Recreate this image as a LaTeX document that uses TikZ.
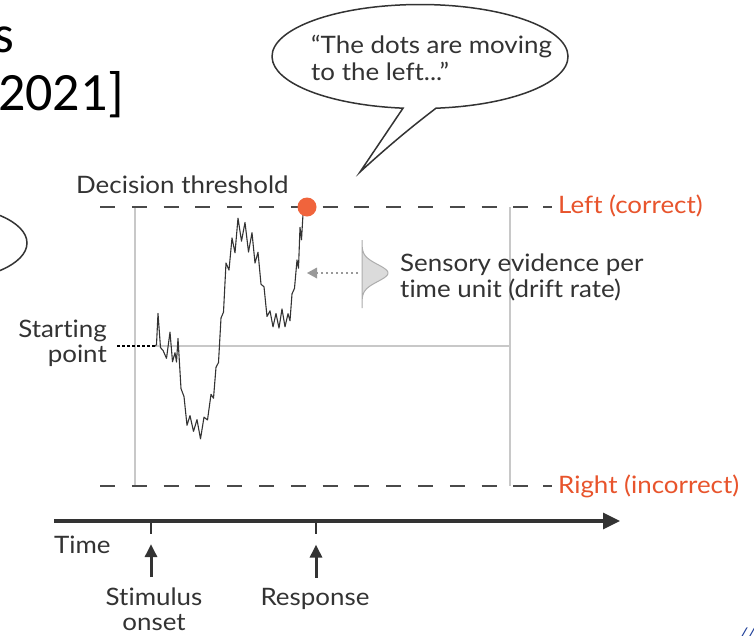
\documentclass[tikz,border=0pt]{standalone}
\usepackage{fontspec}
\setmainfont{Lato}[FakeStretch=1.08, Ligatures=NoCommon]
\newfontfamily\calfont{Carlito}
\usetikzlibrary{arrows.meta}
\definecolor{txt}{HTML}{333333}
\definecolor{redt}{HTML}{E8542C}
\definecolor{dotc}{HTML}{F0643C}
\definecolor{boxg}{HTML}{C8C8C8}
\definecolor{dashg}{HTML}{4A4A4A}
\definecolor{bluet}{HTML}{1F3F99}
\tikzset{
  lbl/.style={inner sep=0pt, text=txt, font=\fontsize{24}{28}\selectfont},
  redlbl/.style={inner sep=0pt, text=redt, font=\fontsize{24}{28}\selectfont},
  thr/.style={draw=dashg, line width=2pt, dash pattern=on 15pt off 16.8pt},
  boxline/.style={draw=boxg, line width=1.6pt},
  axis/.style={draw=txt, line width=3.2pt},
  uparrow/.style={draw=txt, line width=3pt, -{Triangle[length=13pt,width=12pt]}},
}
\begin{document}
\begin{tikzpicture}[x=1pt,y=-1pt]
\useasboundingbox (0,0) rectangle (754,635);
\clip (0,0) rectangle (754,635);
\fill[white] (0,0) rectangle (754,635);

% top-left fragments
\node[inner sep=0pt, anchor=base east, font=\calfont\fontsize{53}{60}\selectfont] (frag1) at (14,52) {s};
\node[inner sep=0pt, anchor=base west, font=\calfont\fontsize{54}{60}\selectfont] (frag2) at (-2,110) {2021]};

% left partial bubble
\draw[line width=1.5pt, txt] (-60,243) ellipse [x radius=87, y radius=38];

% speech bubble
\draw[line width=1.5pt, draw=txt, fill=white]
  (436,108.2) arc[start angle=83.8, end angle=-263.4, x radius=148, y radius=52]
  -- (360,172) .. controls (395,140) and (418,122) .. cycle;
\node[lbl, anchor=base west] (q1) at (311,53) {“The dots are moving};
\node[lbl, anchor=base west] (q2) at (311,80) {to the left...”};

% box
\draw[boxline] (135,207) -- (135,486);
\draw[boxline] (510,207) -- (510,486);
\draw[boxline] (155,346) -- (510,346);

% thresholds
\draw[thr] (100,207) -- (530,207);
\draw[draw=dashg, line width=2pt] (543,207) -- (552,207);
\draw[thr] (100,486) -- (530,486);
\draw[draw=dashg, line width=2pt] (543,486) -- (552,486);

\node[lbl, anchor=base west] (dec) at (76,193) {Decision threshold};
\node[redlbl, anchor=base west] (left) at (558,213) {Left (correct)};
\node[redlbl, anchor=base west] (right) at (558,493) {Right (incorrect)};

% starting point
\node[lbl, anchor=base east] (st1) at (107,337) {Starting};
\node[lbl, anchor=base east] (st2) at (107,362) {point};
\coordinate (sp) at (155,346);
\draw[line width=1.8pt, black, dash pattern=on 2.5pt off 2.5pt] (st2.north east |- sp) ++(10,0) -- (sp);

% random walk
\pgfmathsetseed{5}
\draw[line width=1.1pt, draw=txt, line join=round] (sp)
  foreach \xa/\ya/\xb/\yb in {
    155/345/158/318, 158/318/163/355, 163/355/170/342, 170/342/175/365,
    175/365/178/345, 178/345/184/405, 184/405/190/420, 190/420/197/428,
    197/428/204/428, 204/428/211/400, 211/400/216/378, 216/378/221/330,
    221/330/226/275, 226/275/232/252, 232/252/238/232, 238/232/245/232,
    245/232/252/246, 252/246/258/265, 258/265/264/292, 264/292/270/316,
    270/316/276/324, 276/324/282/320, 282/320/288/320, 288/320/292/298,
    292/298/297/270, 297/270/300/240, 300/240/303/222}
  { -- ({\xa+(\xb-\xa)*0.5}, {\ya+(\yb-\ya)*0.5 + 4 + 10*rnd})
    -- ({\xb}, {\yb - 4 - 10*rnd}) }
  -- (307,207);

% decision dot
\node[circle, fill=dotc, minimum size=19pt, inner sep=0pt] (dot) at (307,207) {};

% drift distribution
\filldraw[fill=black!14, draw=black!32, line width=1pt]
  plot[domain=240:308, samples=70] ({362+26*exp(-((\x-273)/12)^2)}, \x) -- cycle;
\coordinate (dstart) at (358,273);
\coordinate (dend) at (307,273);
\draw[draw=black!40, line width=2pt, dash pattern=on 2.5pt off 2.5pt] (dstart) -- ([xshift=8pt]dend);
\fill[black!40] (dend) -- ++(10,-5.5) -- ++(0,11) -- cycle;

\node[lbl, anchor=base west] (s1) at (400,271) {Sensory evidence per};
\node[lbl, anchor=base west] (s2) at (400,297) {time unit (drift rate)};

% time axis
\coordinate (t0) at (54,521);
\coordinate (t1) at (620,521);
\draw[axis, -{Triangle[length=17pt,width=16pt]}] (t0) -- (t1);
\coordinate (ton) at (151,521);
\coordinate (tresp) at (316,521);
\draw[draw=txt, line width=2.8pt] (ton) -- ++(0,13);
\draw[draw=txt, line width=2.8pt] (tresp) -- ++(0,13);
\node[lbl, anchor=base west] (time) at (54,553) {Time};

\node[lbl, anchor=base] (stim1) at (154,605) {Stimulus};
\node[lbl, anchor=base] (stim2) at (154,630) {onset};
\node[lbl, anchor=base] (resp) at (315,605) {Response};
\draw[uparrow] (stim1.north -| ton) ++(0,-10) -- ++(0,-33);
\draw[uparrow] (resp.north -| tresp) ++(0,-10) -- ++(0,-33);

% bottom-right fragment
\node[inner sep=0pt, anchor=base west, text=bluet, font=\calfont\itshape\fontsize{20}{24}\selectfont] (frag3) at (739,641) {//};
\end{tikzpicture}
\end{document}
